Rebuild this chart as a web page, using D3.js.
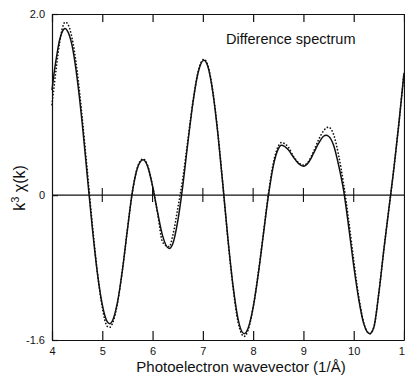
<!DOCTYPE html>
<html>
<head>
<meta charset="utf-8">
<script src="https://cdn.jsdelivr.net/npm/d3@7"></script>
<style>
  html, body { margin: 0; padding: 0; background: #fff; }
  svg { display: block; }
  text { font-family: "Liberation Sans", Arial, sans-serif; fill: #111; }
</style>
</head>
<body>
<svg id="chart" width="405" height="375"></svg>
<script>
// ---- data ----
const kValues = [4.0,4.05,4.1,4.15,4.2,4.26,4.3,4.4,4.5,4.6,4.7,4.8,4.9,5.0,5.1,5.15,5.2,5.3,5.4,5.5,5.6,5.7,5.81,5.9,6.0,6.1,6.2,6.33,6.4,6.5,6.6,6.7,6.8,6.9,7.02,7.1,7.2,7.3,7.4,7.5,7.6,7.7,7.82,7.9,8.0,8.1,8.2,8.3,8.4,8.5,8.56,8.7,8.8,8.9,9.0,9.1,9.2,9.3,9.4,9.45,9.5,9.6,9.7,9.8,9.9,10.0,10.1,10.2,10.32,10.4,10.5,10.6,10.7,10.8,10.9,11.0];
const solidChi = [1.16,1.38,1.56,1.71,1.80,1.84,1.82,1.65,1.29,0.80,0.22,-0.35,-0.85,-1.21,-1.40,-1.42,-1.39,-1.19,-0.83,-0.38,0.04,0.30,0.39,0.32,0.10,-0.19,-0.45,-0.59,-0.54,-0.29,0.10,0.57,1.01,1.34,1.49,1.42,1.13,0.67,0.10,-0.49,-1.00,-1.37,-1.53,-1.47,-1.24,-0.88,-0.45,-0.02,0.32,0.51,0.55,0.50,0.42,0.35,0.32,0.36,0.46,0.57,0.65,0.66,0.65,0.55,0.33,0.05,-0.35,-0.78,-1.15,-1.42,-1.53,-1.46,-1.08,-0.60,-0.15,0.30,0.80,1.35];
const dottedChi = [1.00,1.24,1.47,1.68,1.83,1.91,1.90,1.73,1.37,0.86,0.28,-0.31,-0.84,-1.24,-1.45,-1.46,-1.42,-1.20,-0.83,-0.38,0.04,0.31,0.40,0.33,0.10,-0.20,-0.52,-0.57,-0.45,-0.15,0.18,0.60,1.02,1.35,1.50,1.43,1.14,0.68,0.10,-0.50,-1.02,-1.40,-1.56,-1.49,-1.24,-0.87,-0.44,0.00,0.35,0.54,0.58,0.53,0.43,0.36,0.33,0.37,0.48,0.61,0.71,0.74,0.75,0.67,0.44,0.12,-0.28,-0.72,-1.12,-1.41,-1.53,-1.46,-1.08,-0.60,-0.15,0.30,0.80,1.35];
const xTicks = [4,5,6,7,8,9,10,11];
const yTicks = [-1.6, 0, 2.0];
const yTickLabels = ["-1.6", "0", "2.0"];
const xTitle = "Photoelectron wavevector (1/Å)";
const panelLabel = "Difference spectrum";

// ---- scales ----
const svg = d3.select("#chart");
const x = d3.scaleLinear().domain([4, 11]).range([52, 404]);
const y = d3.scaleLinear().domain([-1.6, 2.0]).range([340, 14]);
const ink = "#111";

// frame
const frame = svg.append("g");
frame.append("g").attr("transform", `translate(0,${y(2.0)})`)
  .call(d3.axisTop(x).tickValues(xTicks).tickSizeInner(-8).tickSizeOuter(0).tickFormat(""));
frame.append("g").attr("transform", `translate(0,${y(-1.6)})`)
  .call(d3.axisBottom(x).tickValues(xTicks).tickSizeInner(-9).tickSizeOuter(0).tickPadding(7).tickFormat(d3.format("d")));
frame.append("g").attr("transform", `translate(${x(4)},0)`)
  .call(d3.axisLeft(y).tickValues(yTicks).tickSizeInner(-6).tickSizeOuter(0).tickPadding(7)
    .tickFormat((d, i) => yTickLabels[i]));
frame.append("g").attr("transform", `translate(${x(11)},0)`)
  .call(d3.axisRight(y).tickValues([]).tickSizeOuter(0));
frame.selectAll(".domain, .tick line").attr("stroke", ink).attr("stroke-width", 1.2);
frame.selectAll(".tick text").attr("font-size", 11).attr("fill", ink)
  .attr("font-family", "'Liberation Sans', Arial, sans-serif");

// zero line with crossing ticks
svg.append("line").attr("x1", x(4)).attr("x2", x(11)).attr("y1", y(0)).attr("y2", y(0))
  .attr("stroke", ink).attr("stroke-width", 1.2);
svg.append("g").selectAll("line").data(xTicks.slice(1, -1)).join("line")
  .attr("x1", d => x(d)).attr("x2", d => x(d))
  .attr("y1", y(0) - 7).attr("y2", y(0) + 7)
  .attr("stroke", ink).attr("stroke-width", 1.1);

// curves
const line = d3.line().x((d, i) => x(kValues[i])).y(d => y(d)).curve(d3.curveMonotoneX);
svg.append("path").attr("d", line(dottedChi)).attr("fill", "none")
  .attr("stroke", ink).attr("stroke-width", 1.7).attr("stroke-linecap", "round")
  .attr("stroke-dasharray", "0.1,3.2");
svg.append("path").attr("d", line(solidChi)).attr("fill", "none")
  .attr("stroke", ink).attr("stroke-width", 1.5);

// texts
svg.append("text").attr("x", 226).attr("y", 43.5).attr("font-size", 14.5).text(panelLabel);
svg.append("text").attr("x", 241).attr("y", 372).attr("text-anchor", "middle")
  .attr("font-size", 15).text(xTitle);
const yt = svg.append("text").attr("transform", "translate(25,188) rotate(-90)")
  .attr("text-anchor", "middle").attr("font-size", 16);
yt.append("tspan").text("k");
yt.append("tspan").attr("font-size", 11).attr("dy", -6).text("3");
yt.append("tspan").attr("dy", 6).text(" χ(k)");
</script>
</body>
</html>
